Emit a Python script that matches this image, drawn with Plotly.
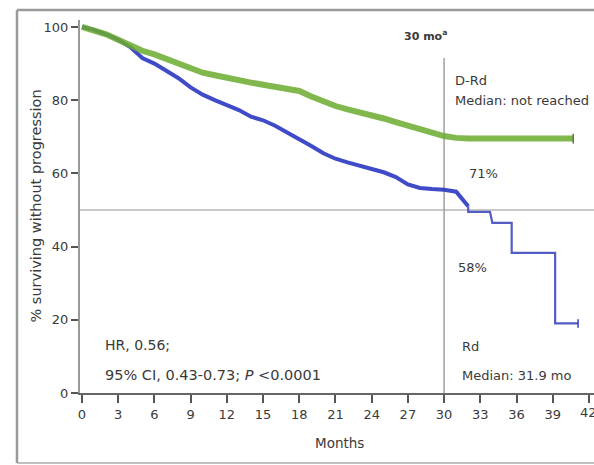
import plotly.graph_objects as go

# Kaplan-Meier estimates (months, % progression-free)
drd_months = [0, 1, 2, 3, 4, 5, 6, 7, 8, 9, 10, 11, 12, 13, 14, 15, 16, 17, 18, 19, 20,
              21, 22, 23, 24, 25, 26, 27, 28, 29, 30, 31, 32, 40.7]
drd_pct = [100, 99.2, 98, 96.5, 95, 93.5, 92.5, 91.2, 89.8, 88.5, 87.5, 86.8, 86, 85.2, 84.8,
           84.2, 83.7, 83.3, 82.5, 81, 79.5, 78.4, 77.5, 76.8, 76, 75, 74, 73, 72, 70.8, 70.2,
           69.7, 69.5, 69.5]

rd_months = [0, 1, 2, 3, 4, 5, 6, 7, 8, 9, 10, 11, 12, 13, 14, 15, 16, 17, 18, 19, 20, 21,
             22, 23, 24, 25, 26, 27, 28, 29, 30, 31, 31.6, 32, 32, 33.8, 34, 35.6, 35.6, 39.2, 39.2, 41.1]
rd_pct = [100, 99.2, 98, 96.5, 94.5, 91.5, 90, 88, 86, 83.5, 81.5, 80, 78.5, 77.3, 75.5, 74.5,
          73, 71.2, 69.5, 67.5, 65.5, 64, 63, 62, 61.2, 60.3, 59, 57, 56, 55.7, 55.5, 55, 52.5,
          51, 49.5, 49.5, 46.5, 46.5, 38.3, 38.3, 19, 19]
rd_sparse_from = 33  # index where follow-up gets sparse (thin line)

x_ticks = [0, 3, 6, 9, 12, 15, 18, 21, 24, 27, 30, 33, 36, 39, 42]
y_ticks = [0, 20, 40, 60, 80, 100]

landmark_month = 30
median_line = 50

FONT = "DejaVu Sans"
TXT = "#3a3a3a"
BLUE = "#2b38c2"
BLUE_THIN = "#3540b8"
GREEN = "#6cac2e"

fig = go.Figure()
fig.add_trace(go.Scatter(x=rd_months[:rd_sparse_from + 1], y=rd_pct[:rd_sparse_from + 1], mode="lines",
                         line=dict(shape="linear", color=BLUE, width=4),
                         opacity=0.9, name="Rd", showlegend=False))
fig.add_trace(go.Scatter(x=rd_months[rd_sparse_from:], y=rd_pct[rd_sparse_from:], mode="lines",
                         line=dict(shape="linear", color=BLUE_THIN, width=2.2),
                         opacity=0.85, name="Rd", showlegend=False))
fig.add_trace(go.Scatter(x=rd_months[-1:], y=rd_pct[-1:], mode="markers",
                         marker=dict(symbol="line-ns-open", size=6, color=BLUE_THIN,
                                     line=dict(color=BLUE_THIN, width=1.5)),
                         showlegend=False))
fig.add_trace(go.Scatter(x=drd_months, y=drd_pct, mode="lines",
                         line=dict(shape="linear", color=GREEN, width=6),
                         opacity=0.85, name="D-Rd", showlegend=False))
fig.add_trace(go.Scatter(x=drd_months[-1:], y=drd_pct[-1:], mode="markers",
                         marker=dict(symbol="line-ns-open", size=7, color="#557a3a",
                                     line=dict(color="#557a3a", width=1.5)),
                         showlegend=False))

FR = "#9a9a9a"
x_left, y_top, y_bot = -0.1226, 1.0268, -0.1877
shapes = [
    dict(type="line", xref="paper", yref="y", x0=0, x1=1, y0=median_line, y1=median_line,
         line=dict(color="#c8c8c8", width=2), layer="below"),
    dict(type="line", xref="x", yref="y", x0=landmark_month, x1=landmark_month, y0=0, y1=91.5,
         line=dict(color="#a0a0a0", width=1.5), layer="below"),
    dict(type="line", xref="paper", yref="paper", x0=x_left, x1=1.05, y0=y_top, y1=y_top,
         line=dict(color=FR, width=2.5)),
    dict(type="line", xref="paper", yref="paper", x0=x_left, x1=1.05, y0=y_bot, y1=y_bot,
         line=dict(color="#c0c0c0", width=2)),
    dict(type="line", xref="paper", yref="paper", x0=x_left, x1=x_left, y0=y_bot, y1=y_top,
         line=dict(color=FR, width=2.5)),
]

def ann(x, y, text, size=13, xanchor="left", bold=False):
    return dict(x=x, y=y, xref="x", yref="y", text=("<b>%s</b>" % text) if bold else text,
                showarrow=False, xanchor=xanchor, yanchor="middle",
                font=dict(family=FONT, size=size, color=TXT))

annotations = [
    ann(28.5, 97.8, "30 mo<sup>a</sup>", 11, "center", bold=True),
    ann(30.7, 85.5, "D-Rd"),
    ann(30.7, 79.8, "Median: not reached"),
    ann(31.9, 60.1, "71%"),
    ann(31.0, 34.4, "58%"),
    ann(31.3, 12.8, "Rd"),
    ann(31.3, 4.9, "Median: 31.9 mo"),
    ann(1.7, 13.1, "HR, 0.56;", 14),
    ann(1.7, 4.9, "95% CI, 0.43-0.73; <i>P</i> &lt;0.0001", 14.5),
    dict(x=-0.0875, y=0.5, xref="paper", yref="paper", text="% surviving without progression",
         textangle=-90, showarrow=False, xanchor="center", yanchor="middle",
         font=dict(family=FONT, size=14.5, color=TXT)),
    dict(x=21.3, y=-0.134, xref="x", yref="paper", text="Months", showarrow=False,
         xanchor="center", yanchor="middle", font=dict(family=FONT, size=13.5, color=TXT)),
    dict(x=42, y=-0.0536, xref="x", yref="paper", text="42", showarrow=False,
         xanchor="center", yanchor="middle", font=dict(family=FONT, size=13, color=TXT)),
]

fig.update_layout(
    width=594, height=465,
    margin=dict(l=80, r=0, t=20, b=72),
    paper_bgcolor="white", plot_bgcolor="white",
    shapes=shapes, annotations=annotations,
    font=dict(family=FONT, size=13, color=TXT),
    xaxis=dict(range=[-0.166, 42.42], tickvals=x_ticks, ticks="outside", ticklen=8, tickwidth=1.5,
               tickcolor="#555", showline=True, linecolor="#666", linewidth=2, showgrid=False,
               zeroline=False, tickfont=dict(family=FONT, size=13, color=TXT)),
    yaxis=dict(range=[0, 101.9], tickvals=y_ticks, ticks="outside", ticklen=7, tickwidth=1.5,
               tickcolor="#555", showline=True, linecolor="#999", linewidth=2, showgrid=False,
               zeroline=False, tickfont=dict(family=FONT, size=13, color=TXT)),
)

fig.write_html("out.html", config={"displayModeBar": False},
               post_script="document.body.style.margin='0';document.body.style.overflow='hidden';")
